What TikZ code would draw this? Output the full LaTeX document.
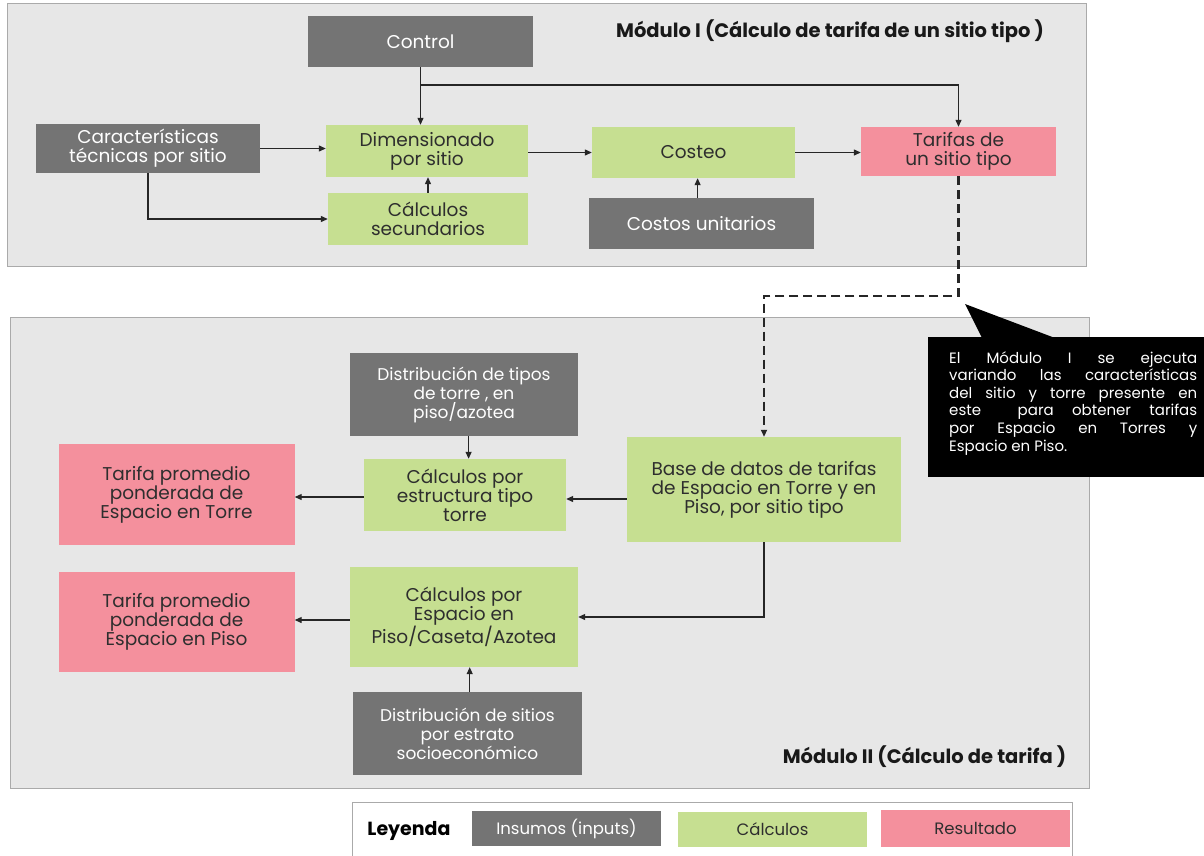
\documentclass[tikz,border=0pt]{standalone}
\usepackage{fontspec}
\setmainfont{Poppins}
\usetikzlibrary{arrows.meta,positioning}
\definecolor{insumo}{HTML}{747474}
\definecolor{calculo}{HTML}{C6DF91}
\definecolor{resultado}{HTML}{F4909D}
\definecolor{fondo}{HTML}{E7E7E7}
\definecolor{marco}{HTML}{AAAAAA}
\definecolor{letra}{HTML}{2E2E2E}
\tikzset{
	caja/.style={rectangle, inner sep=2pt, align=center, font=\fontsize{18.5}{19}\selectfont},
	tam/.style 2 args={minimum width=#1pt, minimum height=#2pt},
	insumo/.style={caja, fill=insumo, text=white},
	calculo/.style={caja, fill=calculo, text=letra},
	resultado/.style={caja, fill=resultado, text=letra},
	flecha/.style={-{Triangle[length=7pt,width=6pt]}, line width=1.2pt, draw=black!85},
	modulo/.style={fill=fondo, draw=marco, line width=1pt},
	titulo/.style={font=\bfseries\fontsize{19.5}{20}\selectfont, text=black!90}
}
\begin{document}
\begin{tikzpicture}[x=1pt, y=-1pt]
	\useasboundingbox (0,0) rectangle (1204,855);
	% modulos
	\draw[modulo] (7,3) rectangle (1086,266);
	\draw[modulo] (10,317) rectangle (1089,788);
	\node[titulo] (tit1) at (830,31) {Módulo I (Cálculo de tarifa de un sitio tipo )};
	\node[titulo] (tit2) at (924.5,757) {Módulo II (Cálculo de tarifa )};
	% modulo I
	\node[insumo, tam={225}{51}] (ctrl) at (420.5,41.5) {Control};
	\node[insumo, tam={224}{49}] (carac) at (148,148.5) {Características\\técnicas por sitio};
	\node[calculo, tam={202}{52}] (dimen) at (427,151) {Dimensionado\\por sitio};
	\node[calculo, tam={200}{52}] (csec) at (428,219) {Cálculos\\secundarios};
	\node[calculo, tam={203}{51}] (costeo) at (693.5,152.5) {Costeo};
	\node[insumo, tam={225}{51}] (cunit) at (701.5,223.5) {Costos unitarios};
	\node[resultado, tam={195}{49}] (tarifas) at (958.5,151.5) {Tarifas de\\un sitio tipo};
	\coordinate (rama) at (420.5,85);
	\draw[flecha] (ctrl) -- (dimen.north -| ctrl);
	\draw[flecha] (rama) -| (tarifas.north);
	\draw[flecha] (carac.east) -- (carac.east -| dimen.west);
	\draw[flecha] (carac.south) |- (csec.west);
	\draw[flecha] (csec) -- (csec.north |- dimen.south);
	\draw[flecha] (dimen.east |- costeo) -- (costeo.west);
	\draw[flecha] (costeo.east) -- (costeo.east -| tarifas.west);
	\draw[flecha] (cunit.north -| 697.6,0) -- (costeo.south -| 697.6,0);
	% modulo II
	\node[insumo, tam={228}{83}, font=\fontsize{17}{19}\selectfont] (distT) at (464,394.5) {Distribución de tipos\\de torre , en\\piso/azotea};
	\node[calculo, tam={202}{72}] (cestr) at (465,495) {Cálculos por\\estructura tipo\\torre};
	\node[resultado, tam={236}{101}] (tTorre) at (176.5,494.5) {Tarifa promedio\\ponderada de\\Espacio en Torre};
	\node[calculo, tam={274}{105}] (base) at (764,489.5) {Base de datos de tarifas\\de Espacio en Torre y en\\Piso, por sitio tipo};
	\node[calculo, tam={228}{100}] (cesp) at (464,617) {Cálculos por\\Espacio en\\Piso/Caseta/Azotea};
	\node[resultado, tam={236}{100}] (tPiso) at (176.5,622) {Tarifa promedio\\ponderada de\\Espacio en Piso};
	\node[insumo, tam={229}{83}, font=\fontsize{17}{19}\selectfont] (distS) at (467.5,733.5) {Distribución de sitios\\por estrato\\socioeconómico};
	\draw[flecha] (distT.south -| 468.6,0) -- (cestr.north -| 468.6,0);
	\draw[flecha] (base.west |- 0,499) -- (cestr.east |- 0,499);
	\draw[flecha] (cestr.west |- 0,497) -- (tTorre.east |- 0,497);
	\draw[flecha] (base.south) |- (cesp.east);
	\draw[flecha] (cesp.west |- 0,620) -- (tPiso.east |- 0,620);
	\draw[flecha] (distS.north -| 469.7,0) -- (cesp.south -| 469.7,0);
	% enlace entre modulos
	\coordinate (quiebre) at (0,296);
	\draw[flecha, line width=2.2pt, dash pattern=on 9pt off 5pt] (tarifas.south) |- (quiebre -| base.north) -- (base.north);
	% nota
	\fill[black] (965,304) -- (982,338) -- (1055,338) -- cycle;
	\fill[black] (928,337) rectangle (1204,477);
	\node[anchor=north west, inner sep=0pt, text=white, align=left, font=\fontsize{15}{17.6}\selectfont] (nota) at (949,351) {%
		\makebox[248pt][s]{El Módulo I se ejecuta}\\
		\makebox[248pt][s]{variando las características}\\
		\makebox[248pt][s]{del sitio y torre presente en}\\
		\makebox[248pt][s]{este \ para obtener tarifas}\\
		\makebox[248pt][s]{por Espacio en Torres y}\\
		Espacio en Piso.};
	% leyenda
	\draw[marco, fill=white, line width=1pt] (352,862) rectangle (1072,802);
	\node[font=\bfseries\fontsize{19}{20}\selectfont] (ley) at (409,831) {Leyenda};
	\node[insumo, tam={189}{35}, font=\fontsize{16.5}{17}\selectfont] (lins) at (566.5,828.5) {Insumos (inputs)};
	\node[calculo, tam={189}{35}, font=\fontsize{16.5}{17}\selectfont] (lcal) at (772.5,829.5) {Cálculos};
	\node[resultado, tam={189}{37}, font=\fontsize{16.5}{17}\selectfont] (lres) at (975.5,828.5) {Resultado};
\end{tikzpicture}
\end{document}
